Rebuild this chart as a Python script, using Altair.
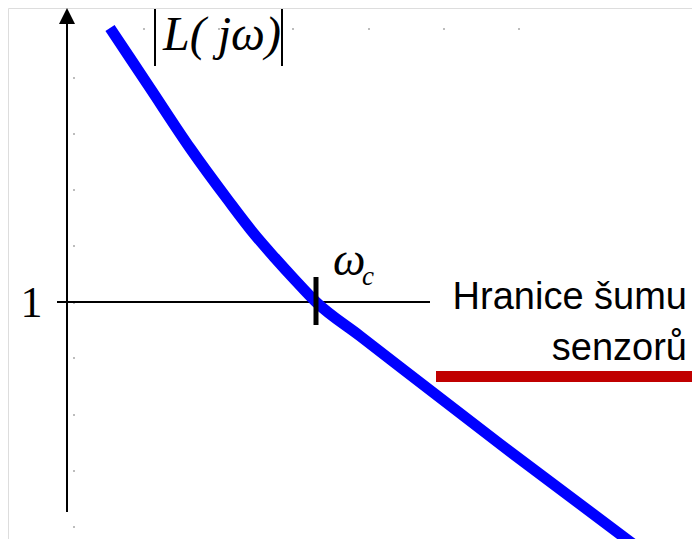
import altair as alt
import pandas as pd

# Open-loop magnitude sketch |L(jω)| (log-log units, ω_c at x=0, |L|=1 at y=0)
curve_x = [-4.12, -3.32, -2.52, -1.76, -1.22, -0.82, -0.42, 0.0, 0.88, 3.68, 6.58]
curve_y = [5.48, 4.28, 3.08, 2.04, 1.34, 0.88, 0.44, 0.0, -0.68, -2.84, -5.02]

# sensor noise limit
noise_x = [2.4, 7.7]
noise_y = [-1.49, -1.49]

# faint grid dots
dot_row_x = [-3.44, -1.94, -0.46, 1.06, 2.56, 4.06]
dot_row_y = 5.46
dot_col_x = -4.84
dot_col_y = [4.48, 3.36, 2.24, 1.12, -0.02, -1.12, -2.26, -3.38, -4.5]

XD = [-6.16, 7.52]
YD = [-4.74, 5.88]

xs = alt.Scale(domain=XD, nice=False, zero=False)
ys = alt.Scale(domain=YD, nice=False, zero=False)

def X(f="x"):
    return alt.X(f, type="quantitative", scale=xs, axis=None)

def Y(f="y"):
    return alt.Y(f, type="quantitative", scale=ys, axis=None)

dots = pd.DataFrame({
    "x": dot_row_x + [dot_col_x] * len(dot_col_y),
    "y": [dot_row_y] * len(dot_row_x) + dot_col_y,
})
dot_layer = alt.Chart(dots).mark_square(size=3, color="#9a9a9a", opacity=1).encode(x=X(), y=Y())

axes = pd.DataFrame({
    "x": [-4.98, -5.18], "x2": [-4.98, 2.28],
    "y": [-4.2, 0.0], "y2": [5.6, 0.0],
})
axis_layer = alt.Chart(axes).mark_rule(color="black", strokeWidth=2).encode(
    x=X(), x2="x2", y=Y(), y2="y2")

arrow = pd.DataFrame({"x": [-4.98], "y": [5.72]})
arrow_layer = alt.Chart(arrow).mark_point(
    shape="M-1,1L1,1L0,-1Z", size=256, filled=True, color="black", opacity=1
).encode(x=X(), y=Y())

curve = pd.DataFrame({"x": curve_x, "y": curve_y, "o": list(range(len(curve_x)))})
curve_layer = alt.Chart(curve).mark_line(
    color="#0000FF", strokeWidth=11, interpolate="monotone", clip=True,
    strokeCap="butt", strokeJoin="round"
).encode(x=X(), y=Y(), order="o")

noise = pd.DataFrame({"x": [noise_x[0]], "x2": [noise_x[1]], "y": [noise_y[0]]})
noise_layer = alt.Chart(noise).mark_rule(
    color="#C00000", strokeWidth=11, strokeCap="butt", clip=True
).encode(x=X(), x2="x2", y=Y())

tick = pd.DataFrame({"x": [0.0], "y": [-0.46], "y2": [0.5]})
tick_layer = alt.Chart(tick).mark_rule(color="black", strokeWidth=5).encode(
    x=X(), y=Y(), y2="y2")

bars = pd.DataFrame({"x": [-3.22, -0.68], "y": [4.72, 4.72], "y2": [5.86, 5.86]})
bar_layer = alt.Chart(bars).mark_rule(color="black", strokeWidth=2).encode(
    x=X(), y=Y(), y2="y2")

serif = "Liberation Serif"
sans = "Liberation Sans"

t_L = alt.Chart(pd.DataFrame({"x": [-3.06], "y": [5.04], "t": ["L( jω)"]})).mark_text(
    font=serif, fontStyle="italic", fontSize=48, align="left", baseline="alphabetic", color="black"
).encode(x=X(), y=Y(), text="t")

t_w = alt.Chart(pd.DataFrame({"x": [0.34], "y": [0.54], "t": ["ω"]})).mark_text(
    font=serif, fontStyle="italic", fontSize=46, align="left", baseline="alphabetic", color="black"
).encode(x=X(), y=Y(), text="t")

t_c = alt.Chart(pd.DataFrame({"x": [0.92], "y": [0.34], "t": ["c"]})).mark_text(
    font=serif, fontStyle="italic", fontSize=27, align="left", baseline="alphabetic", color="black"
).encode(x=X(), y=Y(), text="t")

t_1 = alt.Chart(pd.DataFrame({"x": [-5.69], "y": [-0.30], "t": ["1"]})).mark_text(
    font=serif, fontSize=44, align="center", baseline="alphabetic", color="black"
).encode(x=X(), y=Y(), text="t")

t_noise = alt.Chart(pd.DataFrame({
    "x": [7.42, 7.42], "y": [-0.14, -1.16], "t": ["Hranice šumu", "senzorů"]
})).mark_text(
    font=sans, fontSize=38, align="right", baseline="alphabetic", color="black"
).encode(x=X(), y=Y(), text="t")

chart = alt.layer(
    dot_layer, axis_layer, arrow_layer, curve_layer, noise_layer, tick_layer,
    bar_layer, t_L, t_w, t_c, t_1, t_noise
).properties(
    width=684, height=531, padding=0,
    autosize=alt.AutoSizeParams(type="none"),
).configure_view(stroke=None).configure(background="white")

chart.save("out.html", embed_options={"renderer": "svg", "actions": False})
